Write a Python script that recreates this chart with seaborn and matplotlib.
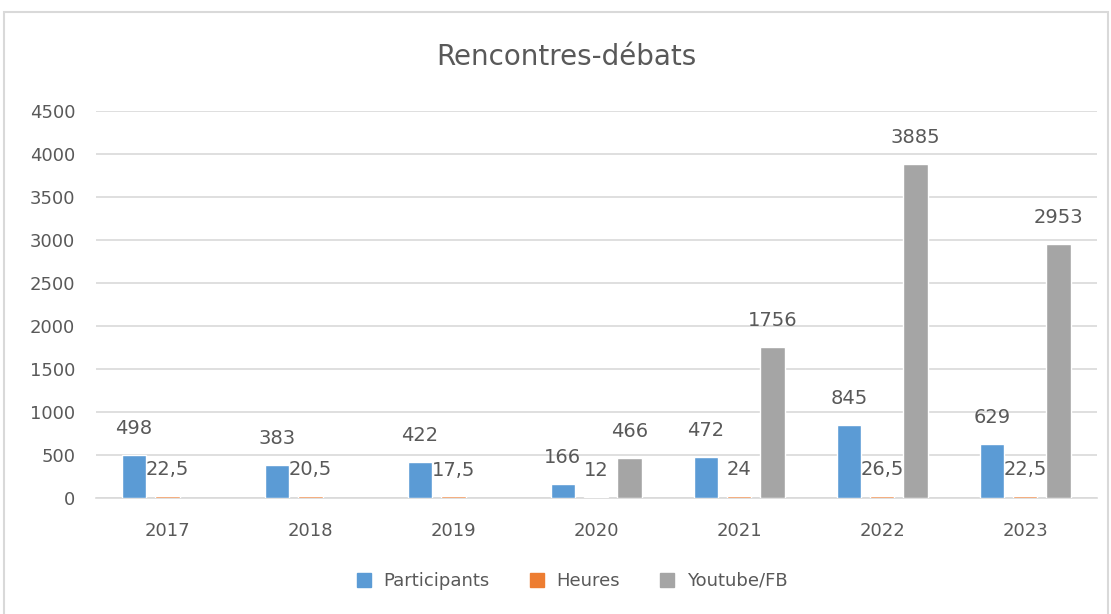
import pandas as pd
import matplotlib.pyplot as plt
import seaborn as sns
from matplotlib.patches import Rectangle

# Chart data
years = ['2017', '2018', '2019', '2020', '2021', '2022', '2023']
participants = [498, 383, 422, 166, 472, 845, 629]
heures = [22.5, 20.5, 17.5, 12, 24, 26.5, 22.5]
youtube_fb = [None, None, None, 466, 1756, 3885, 2953]
series = ['Participants', 'Heures', 'Youtube/FB']
colors = ['#5B9BD5', '#ED7D31', '#A5A5A5']

# Build a long table for seaborn
df_chart = pd.DataFrame({
    'year': years * 3,
    'serie': [s for s in series for _ in years],
    'value': participants + heures + youtube_fb,
})
df_chart['value'] = df_chart['value'].astype(float)

sns.set_style('white')
plt.rcParams['font.family'] = ['DejaVu Sans']
text_color = '#595959'
grid_color = '#D9D9D9'

# Grouped bar chart
fig = plt.figure(figsize=(11.11, 6.14), dpi=100)
ax = fig.add_axes([0.0864, 0.189, 0.9006, 0.63])
sns.barplot(data=df_chart, x='year', y='value', hue='serie', hue_order=series,
            palette=colors, saturation=1, width=0.7, gap=0.27, legend=False,
            ax=ax, zorder=3)
plt.ylim(0, 4500)
plt.yticks(range(0, 4501, 500))
plt.xlabel('')
plt.ylabel('')
ax.grid(axis='y', color=grid_color, linewidth=1.2, zorder=0)
for side in ['top', 'right', 'left']:
    ax.spines[side].set_visible(False)
ax.spines['bottom'].set_color(grid_color)
ax.spines['bottom'].set_linewidth(1.2)
ax.tick_params(axis='y', length=0, pad=15, labelsize=13, labelcolor=text_color)
ax.tick_params(axis='x', length=0, pad=17, labelsize=13, labelcolor=text_color)

# Data labels above each bar
for container in ax.containers:
    for bar in container:
        h = bar.get_height()
        if pd.isna(h) or h == 0:
            continue
        label = f'{h:g}'.replace('.', ',')
        plt.annotate(label, (bar.get_x() + bar.get_width() / 2, h),
                     xytext=(0, 19), textcoords='offset points',
                     ha='center', va='center', fontsize=14, color=text_color)

fig.text(0.51, 0.907, 'Rencontres-débats', ha='center', va='center',
         fontsize=20, color=text_color)

# Legend at the bottom
handles = [plt.Line2D([], [], marker='s', linestyle='', markersize=10,
                      markerfacecolor=c, markeredgecolor=c) for c in colors]
fig.legend(handles, series, loc='center', bbox_to_anchor=(0.51, 0.054), ncol=3,
           frameon=False, fontsize=13, labelcolor=text_color,
           handletextpad=0.1, columnspacing=1.6)

# Chart border
fig.patches.append(Rectangle((0.004, -0.01), 0.993, 0.99, transform=fig.transFigure,
                             fill=False, edgecolor=grid_color, linewidth=1.5))

plt.savefig('out.png', dpi=100)
